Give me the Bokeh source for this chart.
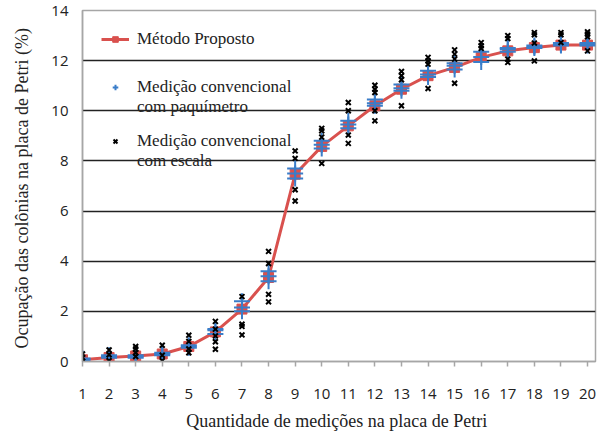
from bokeh.plotting import figure
from bokeh.models import Range1d, FixedTicker, Legend, LegendItem
from bokeh.embed import file_html
from bokeh.resources import INLINE

# ---- data ----
medicoes = list(range(1, 21))

metodo_proposto = [0.07, 0.16, 0.22, 0.30, 0.60, 1.18, 2.09, 3.35, 7.47, 8.58,
                   9.40, 10.20, 10.86, 11.40, 11.73, 12.13, 12.39, 12.52, 12.62, 12.62]

paquimetro = [
    [0.05, 0.10, 0.12],
    [0.15, 0.20, 0.25],
    [0.15, 0.20, 0.25],
    [0.25, 0.30, 0.35],
    [0.55, 0.60, 0.65],
    [1.10, 1.25, 1.30],
    [2.00, 2.15, 2.40],
    [3.20, 3.40, 3.60],
    [7.30, 7.50, 7.70],
    [8.50, 8.65, 8.80],
    [9.30, 9.45, 9.60],
    [10.20, 10.30, 10.45],
    [10.80, 10.90, 11.05],
    [11.35, 11.45, 11.60],
    [11.65, 11.80, 11.90],
    [11.95, 12.15, 12.35],
    [12.35, 12.45, 12.50],
    [12.50, 12.55, 12.60],
    [12.60, 12.65, 12.70],
    [12.60, 12.65, 12.70],
]

escala = [
    [0.30, 0.15, 0.00],
    [0.46, 0.27, 0.03],
    [0.60, 0.50, 0.35, 0.20],
    [0.65, 0.25, 0.03],
    [1.05, 0.80, 0.50, 0.35],
    [1.60, 1.29, 1.02, 0.79, 0.49],
    [2.59, 1.49, 1.40, 1.06],
    [4.39, 3.91, 2.68, 2.38],
    [8.40, 8.10, 6.85, 6.40],
    [9.30, 9.20, 8.95, 7.90],
    [10.33, 10.00, 9.03, 8.70],
    [11.02, 10.86, 10.73, 10.00, 9.60],
    [11.57, 11.40, 11.24, 10.20],
    [12.13, 11.99, 11.86, 10.89],
    [12.43, 12.26, 12.06, 11.10],
    [12.72, 12.59, 12.49],
    [13.00, 12.88, 12.06, 11.93],
    [13.12, 13.03, 12.70, 11.99],
    [13.12, 13.03, 12.72],
    [13.15, 13.06, 12.95, 12.39],
]

y_ticks = [0, 2, 4, 6, 8, 10, 12, 14]

legend_labels = ["Método Proposto",
                 "Medição convencional", "com paquímetro",
                 "Medição convencional", "com escala"]

# ---- flatten scatter series ----
paq_x, paq_y = [], []
for m, vals in zip(medicoes, paquimetro):
    paq_x += [m] * len(vals)
    paq_y += vals
esc_x, esc_y = [], []
for m, vals in zip(medicoes, escala):
    esc_x += [m] * len(vals)
    esc_y += vals

RED = "#D9514E"
BLUE = "#3A7DC9"

p = figure(width=597, height=420, output_backend="svg", toolbar_location=None,
           x_range=Range1d(1, 20.3), y_range=Range1d(0, 14),
           min_border_left=82, min_border_right=2, min_border_top=10, min_border_bottom=59)
p.frame_width = 513
p.frame_height = 351

p.outline_line_color = "#A6A6A6"
p.outline_line_width = 1.5
p.background_fill_color = "white"

# grid
p.xgrid.visible = False
p.ygrid.ticker = FixedTicker(ticks=y_ticks[1:-1])
p.ygrid.grid_line_color = "#222222"
p.ygrid.grid_line_width = 1.5

# axes
p.yaxis.ticker = FixedTicker(ticks=y_ticks)
p.xaxis.ticker = FixedTicker(ticks=medicoes)
for ax in (p.xaxis[0], p.yaxis[0]):
    ax.axis_line_color = "#A6A6A6"
    ax.axis_line_width = 1.5
    ax.major_tick_line_color = "#A6A6A6"
    ax.major_tick_line_width = 1.5
    ax.minor_tick_line_color = None
    ax.major_label_text_font = "Open Sans"
    ax.major_label_text_font_size = "15px"
    ax.major_label_text_color = "#222222"
    ax.axis_label_text_font = "Liberation Serif"
    ax.axis_label_text_font_style = "normal"
    ax.axis_label_text_color = "#222222"
p.yaxis.major_tick_out = 0
p.yaxis.major_tick_in = 0
p.xaxis.major_tick_out = 5
p.xaxis.major_tick_in = 0
p.yaxis.major_label_standoff = 14
p.xaxis.major_label_standoff = 22
p.yaxis.axis_label = "Ocupação  das colônias na placa de Petri (%)"
p.xaxis.axis_label = "Quantidade  de medições na placa de Petri"
p.yaxis.axis_label_text_font_size = "18px"
p.xaxis.axis_label_text_font_size = "18px"
p.yaxis.axis_label_standoff = 16
p.xaxis.axis_label_standoff = 9

# series
line_r = p.line(medicoes, metodo_proposto, line_color=RED, line_width=3)
sq_r = p.scatter(medicoes, metodo_proposto, marker="square", size=10,
                 fill_color=RED, line_color=RED)
paq_r = p.scatter(paq_x, paq_y, marker="cross", size=16, line_color=BLUE,
                  line_width=2)
esc_r = p.scatter(esc_x, esc_y, marker="x", size=7, line_color="black",
                  line_width=2)
# invisible renderer used for legend rows without a symbol
blank_r = p.scatter([], [], marker="circle", size=1, alpha=0)

legend = Legend(items=[
    LegendItem(label=legend_labels[0], renderers=[line_r, sq_r]),
    LegendItem(label=" ", renderers=[blank_r]),
    LegendItem(label="  ", renderers=[blank_r]),
    LegendItem(label=legend_labels[1], renderers=[paq_r]),
    LegendItem(label=legend_labels[2], renderers=[blank_r]),
    LegendItem(label="   ", renderers=[blank_r]),
    LegendItem(label=legend_labels[3], renderers=[esc_r]),
    LegendItem(label=legend_labels[4], renderers=[blank_r]),
], location="top_left")
legend.background_fill_alpha = 0
legend.border_line_alpha = 0
legend.label_text_font = "Liberation Serif"
legend.label_text_font_size = "17px"
legend.label_text_line_height = 1.0
legend.label_text_color = "#222222"
legend.glyph_width = 28
legend.glyph_height = 14
legend.label_height = 14
legend.label_standoff = 8
legend.spacing = 0
legend.margin = 7
legend.padding = 12
p.add_layout(legend)

open("out.html", "w").write(file_html(p, INLINE))
